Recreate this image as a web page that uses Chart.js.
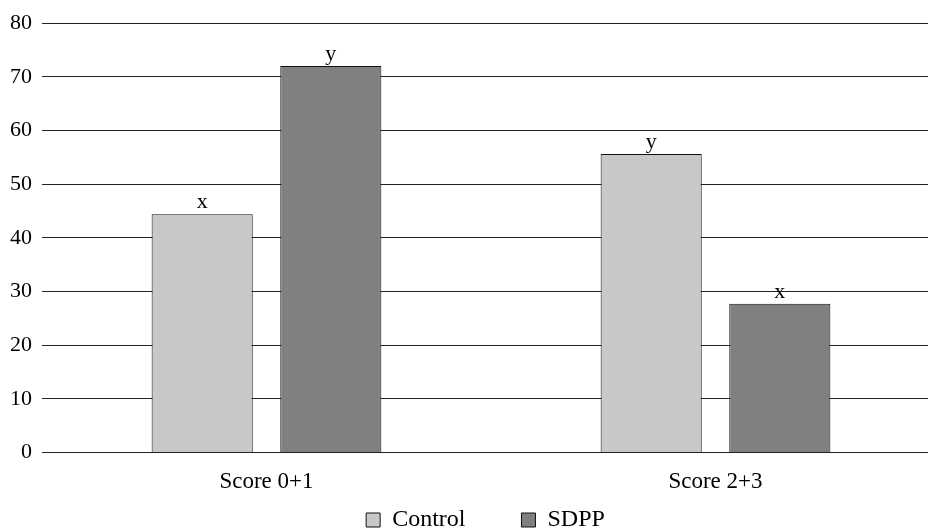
<!DOCTYPE html>
<html>
<head>
<meta charset="utf-8">
<script src="https://cdn.jsdelivr.net/npm/chart.js@4/dist/chart.umd.min.js"></script>
<style>
  html, body { margin: 0; padding: 0; background: #fff; overflow: hidden; }
  #wrap { width: 940px; height: 529px; }
</style>
</head>
<body>
<div id="wrap"><canvas id="myChart" width="940" height="529"></canvas></div>
<script>
// data
const categories = ['Score 0+1', 'Score 2+3'];
const controlValues = [44.4, 55.6];
const sdppValues = [72.0, 27.7];
const controlLetters = ['x', 'y'];
const sdppLetters = ['y', 'x'];
const yTicks = [0, 10, 20, 30, 40, 50, 60, 70, 80];

const serif = "'Liberation Serif', 'Times New Roman', serif";
const legendGap = 56;

// letters written above each bar
const letterPlugin = {
  id: 'letters',
  afterDatasetsDraw(chart) {
    const ctx = chart.ctx;
    ctx.save();
    ctx.font = '22px ' + serif;
    ctx.fillStyle = '#000';
    ctx.textAlign = 'center';
    ctx.textBaseline = 'bottom';
    const sets = [controlLetters, sdppLetters];
    chart.data.datasets.forEach((ds, i) => {
      chart.getDatasetMeta(i).data.forEach((bar, j) => {
        ctx.fillText(sets[i][j], bar.x, bar.y - 1);
      });
    });
    ctx.restore();
  }
};

// the legend's padding sets both item spacing and vertical room,
// so keep the wide spacing but give it a thin box at the bottom
const legendFix = {
  id: 'legendFix',
  afterInit(chart) {
    const lg = chart.legend;
    const fit = lg.fit.bind(lg);
    lg.fit = function () { fit(); this.height = 17; };
    const draw = lg.draw.bind(lg);
    lg.draw = function () {
      const t = this.top, l = this.left;
      this.top = t - legendGap - 4;
      this.left = l + 31;
      draw();
      this.top = t;
      this.left = l;
    };
  }
};

const ctx = document.getElementById('myChart').getContext('2d');
const myChart = new Chart(ctx, {
  type: 'bar',
  data: {
    labels: categories,
    datasets: [
      {
        label: 'Control',
        data: controlValues,
        backgroundColor: '#c8c8c8',
        borderColor: '#111',
        borderWidth: 1,
        categoryPercentage: 0.573,
        barPercentage: 0.786
      },
      {
        label: 'SDPP',
        data: sdppValues,
        backgroundColor: '#808080',
        borderColor: '#111',
        borderWidth: 1,
        categoryPercentage: 0.573,
        barPercentage: 0.786
      }
    ]
  },
  options: {
    responsive: false,
    animation: false,
    layout: { padding: { top: 12, left: 0, right: 0, bottom: 0 } },
    plugins: {
      legend: {
        position: 'bottom',
        labels: {
          font: { family: serif, size: 24 },
          color: '#000',
          boxWidth: 14,
          boxHeight: 14,
          padding: legendGap
        }
      },
      tooltip: { enabled: false }
    },
    scales: {
      x: {
        grid: { display: false, drawTicks: false },
        border: { display: false },
        ticks: { color: '#000', font: { family: serif, size: 23 }, padding: 16 }
      },
      y: {
        min: 0,
        max: 80,
        afterBuildTicks: (axis) => { axis.ticks = yTicks.map(v => ({ value: v })); },
        grid: { color: '#222', lineWidth: 1, drawTicks: false },
        border: { display: false },
        ticks: { color: '#000', font: { family: serif, size: 22 }, padding: 10 }
      }
    }
  },
  plugins: [letterPlugin, legendFix]
});
</script>
</body>
</html>
